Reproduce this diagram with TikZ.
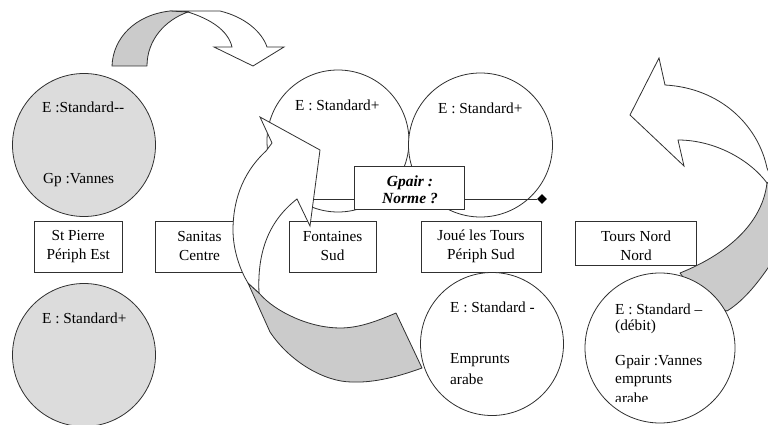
\documentclass[tikz,border=0pt]{standalone}
\usepackage{fontspec}
\setmainfont{Liberation Serif}
\usetikzlibrary{shapes.geometric}
\definecolor{ink}{HTML}{303030}
\definecolor{disc}{HTML}{DCDCDC}
\definecolor{band}{HTML}{CBCBCB}
\tikzset{
  base/.style={font=\fontsize{15.3}{19}\selectfont,text=black},
  circ/.style={circle,draw=ink,line width=.8pt,inner sep=0pt,fill=white},
  grey/.style={circ,fill=disc},
  site/.style={base,draw=ink,line width=.8pt,fill=white,align=center,inner sep=0pt},
  lbl/.style={base,anchor=west,inner sep=0pt},
  ctr/.style={base,align=center,inner sep=0pt},
  bandfill/.style={draw=ink,line width=.8pt,fill=band,line join=round},
  whitearrow/.style={draw=ink,line width=.8pt,fill=white,line join=miter},
}
\begin{document}
\begin{tikzpicture}[x=1pt,y=-1pt]
\useasboundingbox (0,0) rectangle (768,425);
\clip (0,0) rectangle (768,425);
\fill[white] (0,0) rectangle (768,425);
% top arrow
\draw[whitearrow] (170,11) -- (220,11) .. controls (245,17) and (262,32) .. (267,47)
  -- (284,47) -- (253,66) -- (214,47) -- (232,47)
  .. controls (228,30) and (210,19) .. (188,12) -- cycle;
\draw[bandfill] (112,66) .. controls (113,38) and (135,15) .. (170,11)
  -- (188,12) .. controls (165,20) and (147,40) .. (147,66) -- cycle;
% right band (under the circle)
\draw[bandfill] (767,183) .. controls (762,225) and (725,255) .. (680,273)
  -- (700,300) -- (727,311) .. controls (745,300) and (760,280) .. (772,262) -- (772,183) -- cycle;
% circles
\node[grey,minimum size=143pt] (c1) at (84,145) {};
\node[grey,minimum size=143pt] (c2) at (84,355) {};
\node[circ,minimum size=142pt] (c3) at (338,141) {};
\node[circ,minimum size=144pt] (c4) at (480.5,145) {};
% boxes
\node[site,minimum width=88.5pt,minimum height=51pt] (b1) at (78.2,246.5) {St Pierre\\Périph Est};
\node[site,minimum width=88pt,minimum height=51pt] (b2) at (199.5,246.5) {Sanitas\\Centre};
\node[site,minimum width=87pt,minimum height=51pt] (b3) at (332.5,246.5) {Fontaines\\Sud};
\node[site,minimum width=120pt,minimum height=51pt] (b4) at (481,246.5) {Joué les Tours\\Périph Sud};
\node[site,minimum width=121pt,minimum height=44pt] (b5) at (635.5,243) {};
\node[ctr] (b5t) at (636,245.5) {Tours Nord\\Nord};
% line with diamond
\coordinate (ls) at (310,199);
\node[diamond,fill=black,inner sep=0pt,minimum size=10pt] (dm) at (542,199) {};
\draw[ink,line width=.8pt] (ls) -- (dm);
% band of the big arrow
\draw[bandfill] (248,283) -- (270,332) .. controls (290,362) and (325,382) .. (352,382)
  .. controls (375,383) and (400,376) .. (422,368)
  -- (396,313) .. controls (375,322) and (358,328) .. (340,328)
  .. controls (310,328) and (275,312) .. (259,293) -- cycle;
% big arrow
\draw[whitearrow] (260,117) -- (320,150) -- (310,226) -- (297,199)
  .. controls (270,220) and (257,250) .. (259,293)
  -- (248,283) .. controls (240,270) and (233,250) .. (233,230)
  .. controls (233,205) and (240,175) .. (266,151)
  -- (272,143) -- cycle;
% right arrow
\draw[whitearrow] (659,58) -- (630,115) -- (684,166) -- (678,140)
  .. controls (715,140) and (750,160) .. (767,183)
  -- (772,180) -- (767,168)
  .. controls (758,125) and (720,88) .. (665,85) -- cycle;
% lower circles
\node[circ,minimum size=143pt] (c5) at (492,344) {};
\node[circ,minimum size=150pt] (c6) at (660,348) {};
% Gpair box
\node[draw=ink,line width=.8pt,fill=white,minimum width=110pt,minimum height=43pt,inner sep=0pt] (gp) at (409,187.5) {};
\node[base,align=center,inner sep=0pt,font=\fontsize{15.5}{17}\selectfont\bfseries\itshape] (gpt) at (410,189.5) {Gpair :\\Norme ?};
% circle labels
\node[lbl] (t1) at (42,107) {E :Standard-{}-};
\node[lbl] (t2) at (43,180) {Gp :Vannes};
\node[lbl] (t3) at (42,318) {E : Standard+};
\node[lbl] (t4) at (295,105) {E : Standard+};
\node[lbl] (t5) at (438,108) {E : Standard+};
\node[lbl] (t6) at (450,307) {E : Standard -};
\node[lbl] (t7) at (450,360) {Emprunts};
\node[lbl] (t8) at (450,379) {arabe};
\node[lbl] (t9) at (615,309) {E : Standard –};
\node[lbl] (t10) at (615,327) {(débit)};
\node[lbl] (t11) at (615,362) {Gpair :Vannes};
\node[lbl] (t12) at (615,381) {emprunts};
\begin{scope}
\clip (600,385) rectangle (700,401.5);
\node[lbl] (t13) at (615,398.5) {arabe};
\end{scope}
\end{tikzpicture}
\end{document}
